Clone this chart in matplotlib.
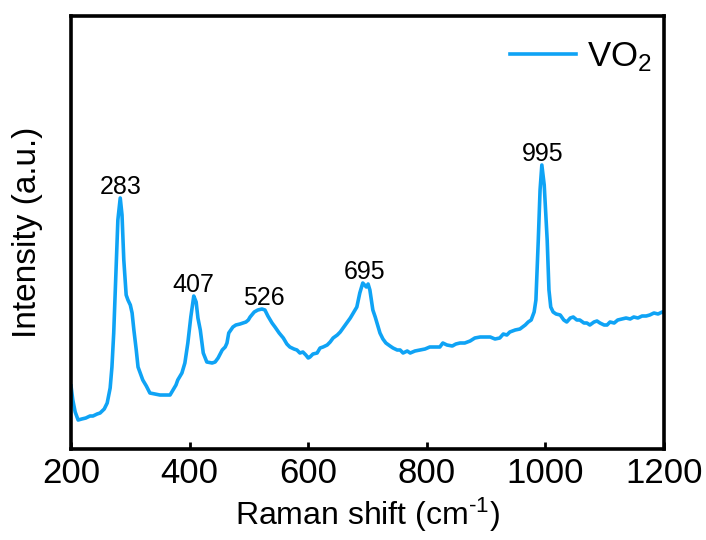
import numpy as np
import matplotlib
matplotlib.use("Agg")
import matplotlib.pyplot as plt

plt.rcParams['font.family'] = ['Liberation Sans', 'DejaVu Sans']
plt.rcParams['mathtext.fontset'] = 'custom'
plt.rcParams['mathtext.rm'] = 'Liberation Sans'
plt.rcParams['mathtext.it'] = 'Liberation Sans'
plt.rcParams['mathtext.default'] = 'regular'

# ------------------------------------------------------------
# Raman spectrum of VO2
# ------------------------------------------------------------
shift = [200, 203, 207, 212, 218, 225, 232, 237, 244, 249, 256, 261, 266, 269,
         272, 276, 279, 283, 286, 289, 293, 296, 300, 303, 306, 310, 313, 321,
         327, 333, 342, 350, 359, 367, 372, 377, 380, 387, 392, 397, 402, 406,
         407, 411, 414, 418, 423, 429, 438, 443, 448, 455, 460, 463, 466, 473,
         478, 485, 490, 495, 499, 502, 509, 515, 522, 527, 532, 539, 544, 551,
         558, 564, 569, 576, 581, 586, 591, 596, 600, 603, 608, 615, 620, 625,
         632, 637, 642, 649, 654, 660, 665, 671, 676, 682, 687, 692, 698, 701,
         704, 709, 713, 716, 721, 726, 731, 738, 743, 750, 755, 760, 767, 772,
         780, 789, 797, 805, 814, 822, 827, 834, 843, 849, 856, 864, 873, 881,
         890, 898, 907, 915, 923, 929, 935, 940, 949, 957, 966, 971, 976, 981,
         984, 988, 991, 994, 998, 1003, 1006, 1009, 1013, 1018, 1025, 1031,
         1036, 1042, 1047, 1053, 1058, 1065, 1070, 1075, 1082, 1087, 1092,
         1099, 1104, 1109, 1116, 1122, 1129, 1136, 1143, 1149, 1156, 1163,
         1170, 1176, 1183, 1190, 1197, 1200]
intensity = [63, 49, 37, 29, 30, 31, 33, 33, 35, 36, 40, 46, 61, 82,
             116, 179, 229, 251, 234, 189, 154, 149, 144, 136, 119, 99, 82, 69,
             63, 56, 55, 54, 54, 54, 59, 64, 69, 76, 86, 106, 132, 149,
             153, 147, 131, 119, 96, 87, 86, 87, 91, 99, 102, 106, 116, 122,
             124, 125, 126, 127, 129, 132, 137, 139, 140, 139, 133, 126, 122, 116,
             111, 105, 102, 100, 99, 96, 97, 94, 91, 92, 95, 96, 101, 102,
             104, 107, 111, 114, 117, 122, 126, 131, 136, 142, 156, 166, 162, 165,
             159, 139, 132, 126, 116, 110, 106, 103, 101, 99, 99, 96, 98, 96,
             98, 99, 100, 102, 102, 102, 106, 104, 103, 105, 106, 106, 108, 111,
             112, 112, 112, 110, 111, 115, 114, 117, 119, 120, 124, 127, 129, 137,
             149, 209, 259, 284, 264, 209, 159, 142, 137, 135, 134, 129,
             127, 131, 132, 129, 129, 126, 126, 124, 127, 128, 126,
             124, 124, 127, 126, 129, 130, 131, 130, 132, 131, 133,
             133, 134, 136, 135, 137, 136]

peaks = [283, 407, 526, 695, 995]
peak_labels = ['283', '407', '526', '695', '995']

shift = np.array(shift)
intensity = np.array(intensity)

# ------------------------------------------------------------
# PLOT
# ------------------------------------------------------------
fig = plt.figure(figsize=(7.06, 5.40), dpi=100)
ax = fig.add_axes([0.1006, 0.1685, 0.8399, 0.8019])

ax.plot(shift, intensity, color='#0FA3F5', linewidth=2.6, label='VO$_2$')

# peak labels just above the local maximum
for p, lab in zip(peaks, peak_labels):
    near = (shift > p - 12) & (shift < p + 12)
    ytop = intensity[near].max()
    ax.annotate(lab, xy=(p, ytop), xytext=(0, 3), textcoords='offset points',
                ha='center', va='baseline', fontsize=18)

ax.set_xlim(200, 1200)
ax.set_ylim(0, 433)
ax.set_xticks([200, 400, 600, 800, 1000, 1200])
ax.tick_params(axis='x', direction='in', length=5, width=2, labelsize=25, pad=6)
ax.tick_params(axis='y', left=False, labelleft=False)
for s in ax.spines.values():
    s.set_linewidth(2.6)

ax.set_xlabel(r'Raman shift (cm$^{\text{-}1}$)', fontsize=23, labelpad=4)
ax.set_ylabel('Intensity (a.u.)', fontsize=24, labelpad=20)

ax.legend(loc='upper right', bbox_to_anchor=(1.02, 1.0), frameon=False, fontsize=25,
          handlelength=1.9, handletextpad=0.3, borderaxespad=0.3)

plt.savefig('out.png', dpi=100)
